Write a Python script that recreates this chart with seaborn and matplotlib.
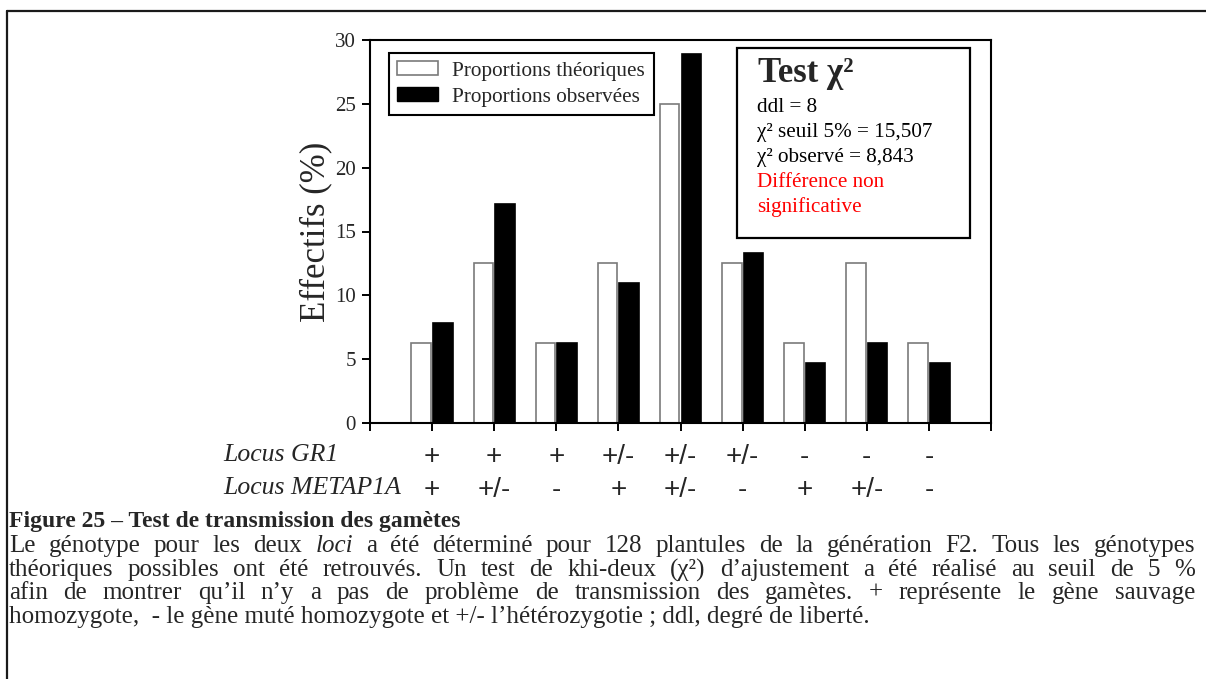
import matplotlib
matplotlib.use("Agg")
import matplotlib.pyplot as plt
from matplotlib.patches import Patch, Rectangle
from matplotlib.lines import Line2D
import seaborn as sns
import pandas as pd

# Genotype classes (GR1 locus, METAP1A locus)
gr1_labels = ["+", "+", "+", "+/-", "+/-", "+/-", "-", "-", "-"]
metap_labels = ["+", "+/-", "-", "+", "+/-", "-", "+", "+/-", "-"]
# Expected proportions (%) for a 1:2:1 x 1:2:1 segregation
theoretical = [6.25, 12.5, 6.25, 12.5, 25.0, 12.5, 6.25, 12.5, 6.25]
# Observed proportions (%) among 128 F2 seedlings
observed = [7.81, 17.19, 6.25, 10.94, 28.91, 13.28, 4.69, 6.25, 4.69]
series_names = ["Proportions théoriques", "Proportions observées"]
y_ticks = [0, 5, 10, 15, 20, 25, 30]

genotypes = [f"{a} | {b}" for a, b in zip(gr1_labels, metap_labels)]
df = pd.DataFrame({
    "genotype": genotypes * 2,
    "value": theoretical + observed,
    "type": [series_names[0]] * len(genotypes) + [series_names[1]] * len(genotypes),
})

sns.set_theme(style="white")
plt.rcParams["font.family"] = ["Liberation Serif", "DejaVu Serif"]
plt.rcParams["axes.edgecolor"] = "black"

W, H = 1206, 679
fig = plt.figure(figsize=(W / 100, H / 100), dpi=100)
fig.patch.set_facecolor("white")


def fx(x):
    return x / W


def fy(y):
    return 1 - y / H


ax_l, ax_r, ax_t, ax_b = 370, 991, 40, 423
ax = fig.add_axes([fx(ax_l), fy(ax_b), (ax_r - ax_l) / W, (ax_b - ax_t) / H])

sns.barplot(data=df, x="genotype", y="value", hue="type", order=genotypes,
            hue_order=series_names, palette=["white", "black"],
            width=0.7, gap=0.1, linewidth=1.2, legend=False, ax=ax)
for bar in ax.containers[0]:
    bar.set_edgecolor("#7a7a7a")
for bar in ax.containers[1]:
    bar.set_edgecolor("black")

ax.set_xlim(-1, len(genotypes))
ax.set_ylim(0, 30)
ax.set_xticks(range(-1, len(genotypes) + 1))
ax.set_xticklabels([])
ax.set_yticks(y_ticks)
ax.set_yticklabels([str(t) for t in y_ticks], fontsize=15)
ax.tick_params(axis="both", direction="out", length=6, width=1.4, color="black",
               bottom=True, left=True, pad=4)
for s in ax.spines.values():
    s.set_visible(True)
    s.set_color("black")
    s.set_linewidth(1.5)
ax.set_xlabel("")
ax.set_ylabel("Effectifs (%)", fontsize=25, labelpad=2)
ax.grid(False)

handles = [Patch(facecolor="white", edgecolor="#7a7a7a", linewidth=1.2),
           Patch(facecolor="black", edgecolor="black")]
leg = ax.legend(handles, series_names, loc="upper left", bbox_to_anchor=(0.03, 0.967),
                fontsize=15.3, frameon=True, fancybox=False, edgecolor="black",
                framealpha=1, handlelength=1.9, handleheight=0.65, handletextpad=0.7,
                labelspacing=0.3, borderpad=0.4, borderaxespad=0)
leg.get_frame().set_linewidth(1.5)

# Chi-square summary box
fig.add_artist(Rectangle((fx(737), fy(238)), (970 - 737) / W, (238 - 48) / H,
                         transform=fig.transFigure, facecolor="white",
                         edgecolor="black", linewidth=1.6))
fig.text(fx(758), fy(73), "Test χ²", fontsize=25, fontweight="bold", va="center")
stat_lines = [("ddl = 8", "black"), ("χ² seuil 5% = 15,507", "black"),
              ("χ² observé = 8,843", "black"), ("Différence non", "red"),
              ("significative", "red")]
for i, (txt, col) in enumerate(stat_lines):
    fig.text(fx(757), fy(108 + 24.7 * i), txt, fontsize=15.2, color=col, va="center")

# Genotype rows under the axis
fig.text(fx(223), fy(455), "Locus GR1", fontsize=18.5, style="italic", va="center")
fig.text(fx(223), fy(488), "Locus METAP1A", fontsize=18.5, style="italic", va="center")
row_y = [-(457 - ax_b) / (ax_b - ax_t), -(490 - ax_b) / (ax_b - ax_t)]
for i, (g, m) in enumerate(zip(gr1_labels, metap_labels)):
    ax.text(i, row_y[0], g, transform=ax.get_xaxis_transform(), ha="center", va="center",
            fontsize=20, family="Liberation Sans")
    ax.text(i, row_y[1], m, transform=ax.get_xaxis_transform(), ha="center", va="center",
            fontsize=20, family="Liberation Sans")

# Outer frame of the figure block
fig.add_artist(Line2D([fx(7), 1.0], [fy(11), fy(11)], transform=fig.transFigure,
                      color="#1a1a1a", linewidth=1.6))
fig.add_artist(Line2D([fx(7), fx(7)], [fy(11), 0], transform=fig.transFigure,
                      color="#1a1a1a", linewidth=1.6))

# Caption
cap_size = 18
fig.text(fx(9), fy(521), "Figure 25 – Test de transmission des gamètes",
         fontsize=17, fontweight="bold", va="center")

justified_lines = [
    [("Le", ""), ("génotype", ""), ("pour", ""), ("les", ""), ("deux", ""), ("loci", "italic"),
     ("a", ""), ("été", ""), ("déterminé", ""), ("pour", ""), ("128", ""), ("plantules", ""),
     ("de", ""), ("la", ""), ("génération", ""), ("F2.", ""), ("Tous", ""), ("les", ""),
     ("génotypes", "")],
    [(w, "") for w in "théoriques possibles ont été retrouvés. Un test de khi-deux (χ²) d’ajustement a été réalisé au seuil de 5 %".split(" ")],
    [(w, "") for w in "afin de montrer qu’il n’y a pas de problème de transmission des gamètes. + représente le gène sauvage".split(" ")],
]
last_line = "homozygote,  - le gène muté homozygote et +/- l’hétérozygotie ; ddl, degré de liberté."
line_y = [546, 570, 593, 617]
x_left, x_right = 9, 1195

fig.canvas.draw()
renderer = fig.canvas.get_renderer()
for words, y in zip(justified_lines, line_y):
    texts = []
    for w, st in words:
        t = fig.text(0, fy(y), w, fontsize=cap_size, va="center",
                     style="italic" if st == "italic" else "normal")
        texts.append(t)
    widths = [t.get_window_extent(renderer).width for t in texts]
    gap = (x_right - x_left - sum(widths)) / (len(widths) - 1)
    x = x_left
    for t, wd in zip(texts, widths):
        t.set_x(fx(x))
        x += wd + gap
fig.text(fx(x_left), fy(line_y[3]), last_line, fontsize=cap_size, va="center")

fig.savefig("out.png", dpi=100, facecolor="white")
